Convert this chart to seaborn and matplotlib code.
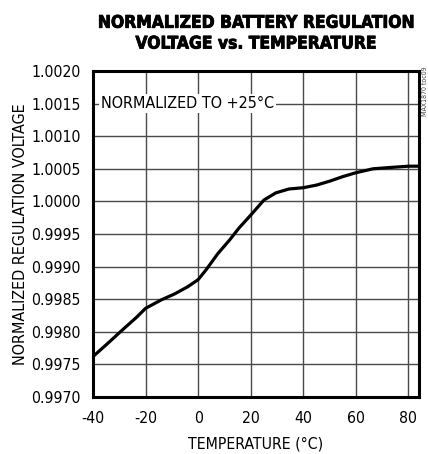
import numpy as np
import pandas as pd
import seaborn as sns
import matplotlib.pyplot as plt
import matplotlib.patheffects as pe

# values
temperature = [-40, -35, -28.5, -23.5, -20, -14, -9, -4, 0, 3, 7.5, 12, 15.5,
               20, 25, 29.5, 34.5, 40, 45, 50, 55, 60, 66.5, 73, 80, 84]
voltage = [0.99762, 0.99780, 0.99804, 0.99822, 0.99836, 0.99849, 0.99858, 0.99869,
           0.99880, 0.99895, 0.99920, 0.99941, 0.99959, 0.99979, 1.00002, 1.00013,
           1.00019, 1.00021, 1.00025, 1.00031, 1.00038, 1.00044, 1.00050, 1.00052,
           1.00054, 1.00054]
x_ticks = [-40, -20, 0, 20, 40, 60, 80]
y_ticks = [0.9970, 0.9975, 0.9980, 0.9985, 0.9990, 0.9995,
           1.0000, 1.0005, 1.0010, 1.0015, 1.0020]

df = pd.DataFrame({'T': temperature, 'V': voltage})

sns.set_style('white')
plt.rcParams['font.family'] = ['DejaVu Sans']
plt.rcParams['font.stretch'] = 'condensed'
plt.rcParams['text.color'] = 'black'
plt.rcParams['xtick.color'] = 'black'
plt.rcParams['ytick.color'] = 'black'
plt.rcParams['axes.labelcolor'] = 'black'

fig = plt.figure(figsize=(4.28, 4.54), dpi=100)
ax = fig.add_axes([0.2173, 0.1256, 0.7617, 0.718])

sns.lineplot(data=df, x='T', y='V', ax=ax, color='black', linewidth=2.3, zorder=5)

ax.set_xlim(-40, 84)
ax.set_ylim(0.9970, 1.0020)
ax.set_xticks(x_ticks)
ax.set_yticks(y_ticks)
ax.set_xticklabels([str(t) for t in x_ticks], fontsize=11.3)
ax.set_yticklabels([f'{v:.4f}' for v in y_ticks], fontsize=11.3)
ax.tick_params(axis='x', length=0, pad=10)
ax.tick_params(axis='y', length=0, pad=9)
ax.grid(True, color='#4a4a4a', linewidth=1.0)
for s in ax.spines.values():
    s.set_linewidth(2.2)
    s.set_color('black')

ax.set_xlabel('TEMPERATURE (°C)', fontsize=11.3, labelpad=8)
ax.set_ylabel('NORMALIZED REGULATION VOLTAGE', fontsize=11.5, labelpad=2)

ax.text(-37, 1.0015, 'NORMALIZED TO +25°C', fontsize=11.5, va='center', ha='left',
        bbox=dict(facecolor='white', edgecolor='none', pad=1.5), zorder=4)

fig.text(0.598, 0.927, 'NORMALIZED BATTERY REGULATION\nVOLTAGE vs. TEMPERATURE',
         ha='center', va='center', fontsize=12.5, fontweight='bold', linespacing=1.2,
         path_effects=[pe.withStroke(linewidth=0.6, foreground='black')])
fig.text(0.992, 0.80, 'MAX1870 toc09', rotation=90, fontsize=5, color='#444444',
         ha='center', va='center')

fig.savefig('out.png', dpi=100)
